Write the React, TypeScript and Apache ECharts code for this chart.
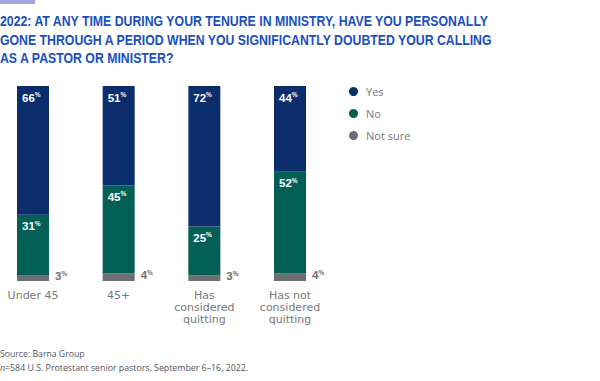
import React, { useEffect, useRef } from "react";
import * as echarts from "echarts";

const categories = ["Under 45", "45+", "Has\nconsidered\nquitting", "Has not\nconsidered\nquitting"];
const yesValues = [66, 51, 72, 44];
const noValues = [31, 45, 25, 52];
const notSureValues = [3, 4, 3, 4];
const seriesNames = ["Yes", "No", "Not sure"];
const titleText =
  "2022: AT ANY TIME DURING YOUR TENURE IN MINISTRY, HAVE YOU PERSONALLY\nGONE THROUGH A PERIOD WHEN YOU SIGNIFICANTLY DOUBTED YOUR CALLING\nAS A PASTOR OR MINISTER?";
const sourceText = "Source: Barna Group";
const noteText = "=584 U.S. Protestant senior pastors, September 6–16, 2022.";

const COLORS = ["#0b2d6c", "#015f55", "#6d6e71"];

const rich = (color: string) => ({
  v: { fontSize: 11.5, fontWeight: "bold", color, fontFamily: "Liberation Sans", lineHeight: 13 },
  p: { fontSize: 6.5, fontWeight: "bold", color, fontFamily: "Liberation Sans", lineHeight: 7, verticalAlign: "top" },
});

const fmt = (p: any) => `{v|${p.value}}{p|%}`;

export default function App() {
  const ref = useRef<HTMLDivElement>(null);
  useEffect(() => {
    if (!ref.current) return;
    const chart = echarts.init(ref.current, null, { renderer: "svg" });
    const bar = { type: "bar", stack: "a", barWidth: 32, clip: false };
    chart.setOption({
      animation: false,
      color: COLORS,
      legend: {
        orient: "vertical",
        left: 349,
        top: 86,
        padding: 0,
        icon: "circle",
        itemWidth: 9,
        itemHeight: 9,
        itemGap: 11,
        data: seriesNames,
        textStyle: { fontSize: 11, color: "#777", fontFamily: "Open Sans", padding: [0, 0, 0, 3] },
      },
      grid: { left: 33, right: 310, top: 86, bottom: 100, containLabel: false },
      xAxis: {
        type: "category",
        data: categories,
        boundaryGap: false,
        axisLine: { show: false },
        axisTick: { show: false },
        axisLabel: {
          color: "#777",
          fontSize: 11,
          fontFamily: "DejaVu Sans",
          lineHeight: 12,
          margin: 8,
          interval: 0,
        },
      },
      yAxis: { type: "value", min: 0, max: 100, show: false },
      series: [
        {
          ...bar,
          name: seriesNames[2],
          data: notSureValues,
          itemStyle: { color: COLORS[2] },
          label: { show: true, position: "right", distance: 6, offset: [0, -2], formatter: fmt, rich: rich("#6d6e71") },
        },
        {
          ...bar,
          name: seriesNames[1],
          data: noValues,
          itemStyle: { color: COLORS[1] },
          label: { show: true, position: "insideTopLeft", distance: 5, formatter: fmt, rich: rich("#fff") },
        },
        {
          ...bar,
          name: seriesNames[0],
          data: yesValues,
          itemStyle: { color: COLORS[0] },
          label: { show: true, position: "insideTopLeft", distance: 5, formatter: fmt, rich: rich("#fff") },
        },
      ],
      graphic: [
        { type: "rect", left: 0, top: 0, shape: { width: 35, height: 4 }, style: { fill: "#a3a3e6" } },
        {
          type: "text",
          x: 0,
          y: 12,
          scaleX: 0.82,
          style: {
            text: titleText,
            fontSize: 15,
            fontWeight: "bold",
            fill: "#1a4fbf",
            fontFamily: "Liberation Sans",
            lineHeight: 18.5,
            verticalAlign: "top",
            align: "left",
          },
        },
        {
          type: "text",
          left: 0,
          top: 349,
          style: { text: sourceText, fontSize: 8.7, fill: "#555", fontFamily: "Open Sans" },
        },
        {
          type: "text",
          left: 0,
          top: 363,
          style: {
            text: `{i|n}{t|${noteText}}`,
            rich: {
              i: { fontSize: 8.8, fill: "#555", fontStyle: "italic", fontFamily: "Open Sans" },
              t: { fontSize: 8.8, fill: "#555", fontFamily: "Open Sans" },
            },
          },
        },
      ],
    });
    return () => chart.dispose();
  }, []);
  return <div ref={ref} style={{ width: 600, height: 381, position: "absolute", left: 0, top: 0 }} />;
}
